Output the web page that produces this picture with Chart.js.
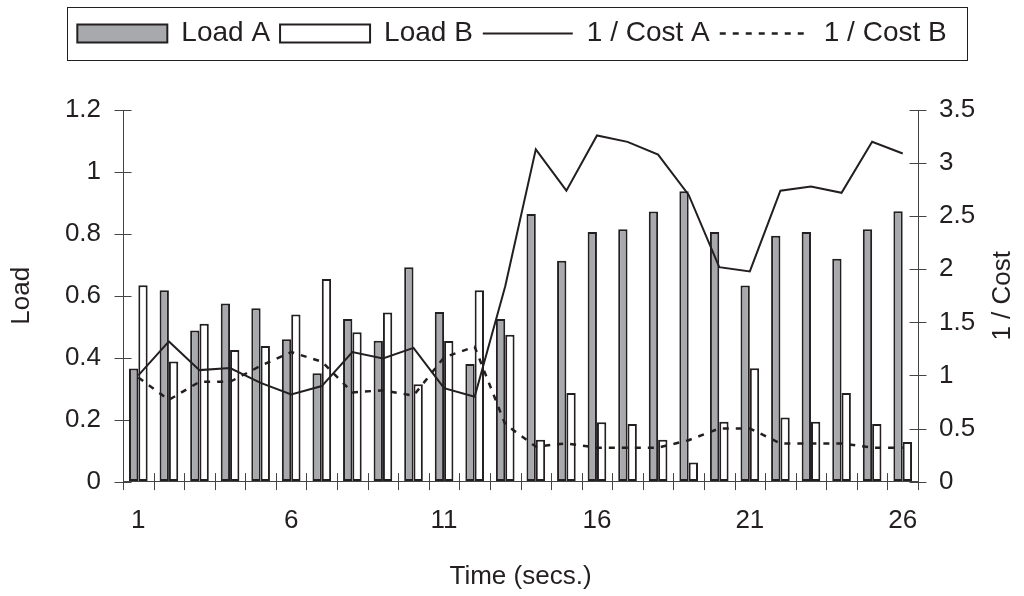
<!DOCTYPE html>
<html>
<head>
<meta charset="utf-8">
<script src="https://cdn.jsdelivr.net/npm/chart.js@4.4.1/dist/chart.umd.min.js"></script>
<style>
  html, body { margin: 0; padding: 0; background: #fff; }
  canvas { display: block; }
</style>
</head>
<body>
<canvas id="chart" width="1024" height="596"></canvas>
<script>
// values
const times = ['1', '2', '3', '4', '5', '6', '7', '8', '9', '10', '11', '12', '13',
  '14', '15', '16', '17', '18', '19', '20', '21', '22', '23', '24', '25', '26'];
const xTickLabels = ['1', '6', '11', '16', '21', '26'];

const loadA = [0.365, 0.618, 0.488, 0.575, 0.56, 0.46, 0.35, 0.525, 0.455, 0.692, 0.548, 0.38, 0.525,
  0.864, 0.713, 0.806, 0.815, 0.872, 0.938, 0.806, 0.633, 0.794, 0.806, 0.72, 0.815, 0.873];
const loadB = [0.634, 0.388, 0.51, 0.425, 0.438, 0.54, 0.654, 0.482, 0.546, 0.314, 0.454, 0.618, 0.474,
  0.135, 0.286, 0.192, 0.186, 0.135, 0.062, 0.193, 0.366, 0.207, 0.193, 0.286, 0.186, 0.128];

const invCostA = [1.0, 1.32, 1.05, 1.07, 0.93, 0.82, 0.9, 1.22, 1.16, 1.26, 0.88, 0.8, 1.84,
  3.13, 2.74, 3.26, 3.2, 3.08, 2.7, 2.02, 1.98, 2.74, 2.78, 2.72, 3.2, 3.09];
const invCostB = [0.98, 0.77, 0.94, 0.94, 1.09, 1.22, 1.13, 0.84, 0.86, 0.81, 1.17, 1.27, 0.54,
  0.33, 0.36, 0.32, 0.32, 0.32, 0.39, 0.5, 0.5, 0.36, 0.36, 0.36, 0.32, 0.32];

const INK = '#231f20';
const AXIS = '#444';
const FONT = "'Liberation Sans', Arial, Helvetica, sans-serif";
const RIGHT_TITLE = '1 / Cost';

// make room between the legend and the plot
const legendGap = {
  id: 'legendGap',
  beforeInit(chart) {
    const fit = chart.legend.fit;
    chart.legend.fit = function () {
      fit.call(this);
      this.height += 52.5;
    };
  },
};

// thin frame around the legend row
const legendFrame = {
  id: 'legendFrame',
  afterDraw(chart) {
    const boxes = chart.legend.legendHitBoxes;
    if (!boxes || !boxes.length) return;
    const first = boxes[0];
    const last = boxes[boxes.length - 1];
    const left = Math.round(first.left - 10) + 0.5;
    const right = Math.round(last.left + last.width + 20) + 0.5;
    const top = Math.round(first.top - 12.5) + 0.5;
    const bottom = Math.round(first.top + first.height + 12) + 0.5;
    const { ctx } = chart;
    ctx.save();
    ctx.strokeStyle = INK;
    ctx.lineWidth = 1;
    ctx.strokeRect(left, top, right - left, bottom - top);
    ctx.restore();
  },
};

// right axis title reads bottom-to-top like the left one
const rightTitle = {
  id: 'rightTitle',
  afterDraw(chart) {
    const { ctx, chartArea } = chart;
    ctx.save();
    ctx.translate(chart.width - 21, (chartArea.top + chartArea.bottom) / 2);
    ctx.rotate(-Math.PI / 2);
    ctx.fillStyle = INK;
    ctx.font = '26px ' + FONT;
    ctx.textAlign = 'center';
    ctx.textBaseline = 'middle';
    ctx.fillText(RIGHT_TITLE, 0, 0);
    ctx.restore();
  },
};

// tick marks that cross the axis lines
const crossTicks = {
  id: 'crossTicks',
  beforeDatasetsDraw(chart) {
    const { ctx, chartArea, scales } = chart;
    const len = 8.5;
    ctx.save();
    ctx.strokeStyle = AXIS;
    ctx.lineWidth = 1;
    ctx.beginPath();
    [scales.y, scales.y2].forEach((s) => {
      const x0 = s.position === 'left' ? chartArea.left : chartArea.right;
      s.ticks.forEach((_t, i) => {
        const y = Math.round(s.getPixelForTick(i)) + 0.5;
        ctx.moveTo(x0 - len, y);
        ctx.lineTo(x0 + len, y);
      });
    });
    const xs = scales.x;
    const half = (xs.getPixelForValue(1) - xs.getPixelForValue(0)) / 2;
    for (let k = 0; k <= times.length; k++) {
      const x = Math.round(xs.getPixelForValue(k) - half) + 0.5;
      ctx.moveTo(x, chartArea.bottom - len);
      ctx.lineTo(x, chartArea.bottom + len);
    }
    ctx.stroke();
    ctx.restore();
  },
};

Chart.defaults.font.family = FONT;
Chart.defaults.color = INK;

const tickFont = { family: FONT, size: 26 };
const axisBorder = { display: true, color: AXIS, width: 1 };
const noGrid = { display: true, drawOnChartArea: false, drawTicks: false };
const plainNumber = (v) => String(Number(v.toFixed(2)));

new Chart(document.getElementById('chart'), {
  type: 'bar',
  data: {
    labels: times,
    datasets: [
      {
        label: 'Load A',
        data: loadA,
        backgroundColor: '#a7a9ac',
        borderColor: INK,
        borderWidth: 2,
        borderSkipped: false,
        pointStyle: 'rect',
        yAxisID: 'y',
        order: 2,
      },
      {
        label: 'Load B',
        data: loadB,
        backgroundColor: '#ffffff',
        borderColor: INK,
        borderWidth: 2,
        borderSkipped: false,
        pointStyle: 'rect',
        yAxisID: 'y',
        order: 2,
      },
      {
        type: 'line',
        label: '1 / Cost A',
        data: invCostA,
        borderColor: INK,
        backgroundColor: 'transparent',
        borderWidth: 2,
        pointRadius: 0,
        pointStyle: 'line',
        tension: 0,
        yAxisID: 'y2',
        order: 1,
      },
      {
        type: 'line',
        label: '1 / Cost B',
        data: invCostB,
        borderColor: INK,
        backgroundColor: 'transparent',
        borderWidth: 2.5,
        borderDash: [6, 7],
        pointRadius: 0,
        pointStyle: 'line',
        tension: 0,
        yAxisID: 'y2',
        order: 1,
      },
    ],
  },
  options: {
    responsive: false,
    animation: false,
    layout: { padding: { top: 9.5, left: 0, right: 0, bottom: 0 } },
    datasets: {
      bar: { barPercentage: 1, categoryPercentage: 0.61 },
    },
    plugins: {
      tooltip: { enabled: false },
      legend: {
        position: 'top',
        labels: {
          usePointStyle: true,
          pointStyleWidth: 90,
          boxHeight: 18,
          padding: 10,
          color: INK,
          font: { family: FONT, size: 28 },
          sort: (a, b) => a.datasetIndex - b.datasetIndex,
          generateLabels(chart) {
            const items = Chart.defaults.plugins.legend.labels.generateLabels(chart);
            items.forEach((it) => {
              const ds = chart.data.datasets[it.datasetIndex];
              it.lineDash = ds.borderDash || [];
              it.lineWidth = ds.borderWidth;
            });
            return items;
          },
        },
      },
    },
    scales: {
      x: {
        offset: true,
        grid: noGrid,
        border: axisBorder,
        ticks: {
          autoSkip: false,
          maxRotation: 0,
          padding: 24,
          color: INK,
          font: tickFont,
          callback(value) {
            const lab = this.getLabelForValue(value);
            return xTickLabels.includes(lab) ? lab : '';
          },
        },
        title: {
          display: true,
          text: 'Time (secs.)',
          color: INK,
          font: tickFont,
          padding: { top: 0, bottom: 4 },
        },
      },
      y: {
        position: 'left',
        min: 0,
        max: 1.2,
        grid: noGrid,
        border: axisBorder,
        ticks: { stepSize: 0.2, padding: 22, color: INK, font: tickFont, callback: plainNumber },
        title: {
          display: true,
          text: 'Load',
          color: INK,
          font: tickFont,
          padding: { top: 6, bottom: 5.7 },
        },
      },
      y2: {
        position: 'right',
        min: 0,
        max: 3.5,
        grid: noGrid,
        border: axisBorder,
        ticks: { stepSize: 0.5, padding: 21, color: INK, font: tickFont, callback: plainNumber },
        // leave room at the right edge for the hand-drawn title
        afterFit(scale) {
          scale.width = 106;
        },
      },
    },
  },
  plugins: [legendGap, legendFrame, rightTitle, crossTicks],
});
</script>
</body>
</html>
